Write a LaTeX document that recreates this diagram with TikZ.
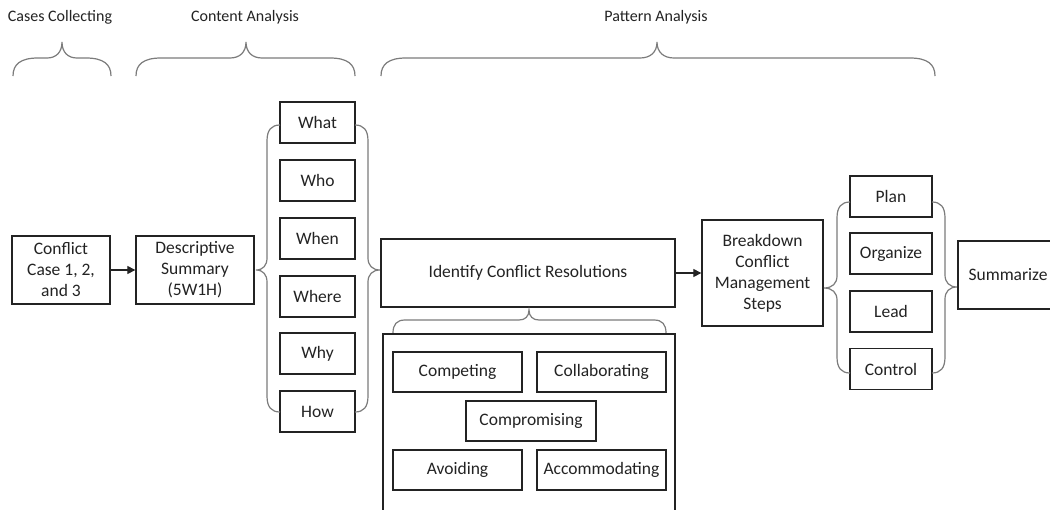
\documentclass[tikz,border=0pt]{standalone}
\usepackage{fontspec}
\setmainfont{Carlito}
\usetikzlibrary{arrows.meta}
\definecolor{ink}{HTML}{232323}
\definecolor{bracegray}{HTML}{7C7C7C}

% horizontal curly brace: left x, right x, tip x, end y, line y, tip y, corner span, tip span
\newcommand{\hbrace}[8]{%
  \draw[brace] (#1,#4) .. controls (#1,{#5+0.35*(#4-#5)}) and ({#1+0.3*#7},#5) .. ({#1+#7},#5)
    -- ({#3-#8},#5) .. controls ({#3-0.4*#8},#5) and (#3,{#5+0.35*(#6-#5)}) .. (#3,#6)
    .. controls (#3,{#5+0.35*(#6-#5)}) and ({#3+0.4*#8},#5) .. ({#3+#8},#5)
    -- ({#2-#7},#5) .. controls ({#2-0.3*#7},#5) and (#2,{#5+0.35*(#4-#5)}) .. (#2,#4);}
% vertical curly brace: end x, spine x, tip x, top y, bottom y, tip y, corner span, tip span
\newcommand{\vbrace}[8]{%
  \draw[brace] (#1,#4) .. controls ({#2+0.35*(#1-#2)},#4) and (#2,{#4+0.3*#7}) .. (#2,{#4+#7})
    -- (#2,{#6-#8}) .. controls (#2,{#6-0.4*#8}) and ({#2+0.35*(#3-#2)},#6) .. (#3,#6)
    .. controls ({#2+0.35*(#3-#2)},#6) and (#2,{#6+0.4*#8}) .. (#2,{#6+#8})
    -- (#2,{#5-#7}) .. controls (#2,{#5-0.3*#7}) and ({#2+0.35*(#1-#2)},#5) .. (#1,#5);}

\tikzset{
  box/.style={draw=ink, line width=1.3pt, text=ink, align=center, inner sep=0pt,
    font=\fontsize{17.5}{21}\selectfont},
  head/.style={text=ink, inner sep=0pt, font=\fontsize{16}{21}\selectfont},
  brace/.style={draw=bracegray, line width=1.2pt},
  arrow/.style={draw=ink, line width=1.1pt, -{Triangle[length=8pt,width=8pt]}},
}

\begin{document}
\begin{tikzpicture}[x=1pt, y=-1pt]
\useasboundingbox (0,0) rectangle (1050,509);
\clip (0,0) rectangle (1050,509);
\fill[white] (0,0) rectangle (1050,509);

% stage headings
\node[head] (hcases) at (60,17) {Cases Collecting};
\node[head] (hcontent) at (245,17) {Content Analysis};
\node[head] (hpattern) at (656,17) {Pattern Analysis};

% stage braces
\hbrace{13}{111}{62}{76}{58}{42}{25}{15}
\hbrace{136}{355}{246}{76}{58}{42}{25}{16}
\hbrace{381}{935}{657}{76}{58}{42}{25}{17}

% main flow
\node[box, minimum width=98pt, minimum height=68pt] (conflict) at (61,270) {Conflict\\Case 1, 2,\\and 3};
\node[box, minimum width=118pt, minimum height=68pt] (desc) at (195,270) {Descriptive\\Summary\\(5W1H)};

% 5W1H
\node[box, minimum width=75pt, minimum height=41pt] (what) at (317.5,122.5) {What};
\node[box, minimum width=75pt, minimum height=41pt] (who) at (317.5,180.5) {Who};
\node[box, minimum width=75pt, minimum height=41pt] (when) at (317.5,238.5) {When};
\node[box, minimum width=75pt, minimum height=41pt] (where) at (317.5,296.5) {Where};
\node[box, minimum width=75pt, minimum height=41pt] (why) at (317.5,353.5) {Why};
\node[box, minimum width=75pt, minimum height=41pt] (how) at (317.5,411.5) {How};
\vbrace{280}{267}{256}{125}{412}{270}{16}{12}
\vbrace{355}{368}{380}{125}{412}{270}{16}{12}

% conflict resolutions
\node[box, minimum width=294pt, minimum height=68pt] (identify) at (528,273) {Identify Conflict Resolutions};
\hbrace{393}{666}{529}{333}{320}{310}{12}{10}
\node[box, minimum width=292pt, minimum height=200pt] (modes) at (529,434) {};
\node[box, minimum width=129pt, minimum height=40pt] (competing) at (457.5,372) {Competing};
\node[box, minimum width=129pt, minimum height=40pt] (collab) at (601.5,372) {Collaborating};
\node[box, minimum width=130pt, minimum height=40pt] (comprom) at (531,421) {Compromising};
\node[box, minimum width=129pt, minimum height=40pt] (avoid) at (457.5,470) {Avoiding};
\node[box, minimum width=129pt, minimum height=40pt] (accom) at (601.5,470) {Accommodating};

% management steps
\node[box, minimum width=121pt, minimum height=106pt] (breakdown) at (762.5,273) {Breakdown\\Conflict\\Management\\Steps};
\node[box, minimum width=82pt, minimum height=41pt] (plan) at (891,196.5) {Plan};
\node[box, minimum width=82pt, minimum height=41pt] (organize) at (891,253.5) {Organize};
\node[box, minimum width=82pt, minimum height=41pt] (lead) at (891,311.5) {Lead};
\node[box, minimum width=82pt, minimum height=41pt] (control) at (891,369) {Control};
\vbrace{850}{837}{824}{202}{373}{288}{16}{12}
\vbrace{932}{945}{957}{202}{373}{287}{16}{12}
\node[box, minimum width=100pt, minimum height=68pt] (summarize) at (1008,275) {Summarize};

% connectors
\draw[arrow] (conflict) -- (desc);
\draw[arrow] (identify) -- (breakdown);
\end{tikzpicture}
\end{document}
